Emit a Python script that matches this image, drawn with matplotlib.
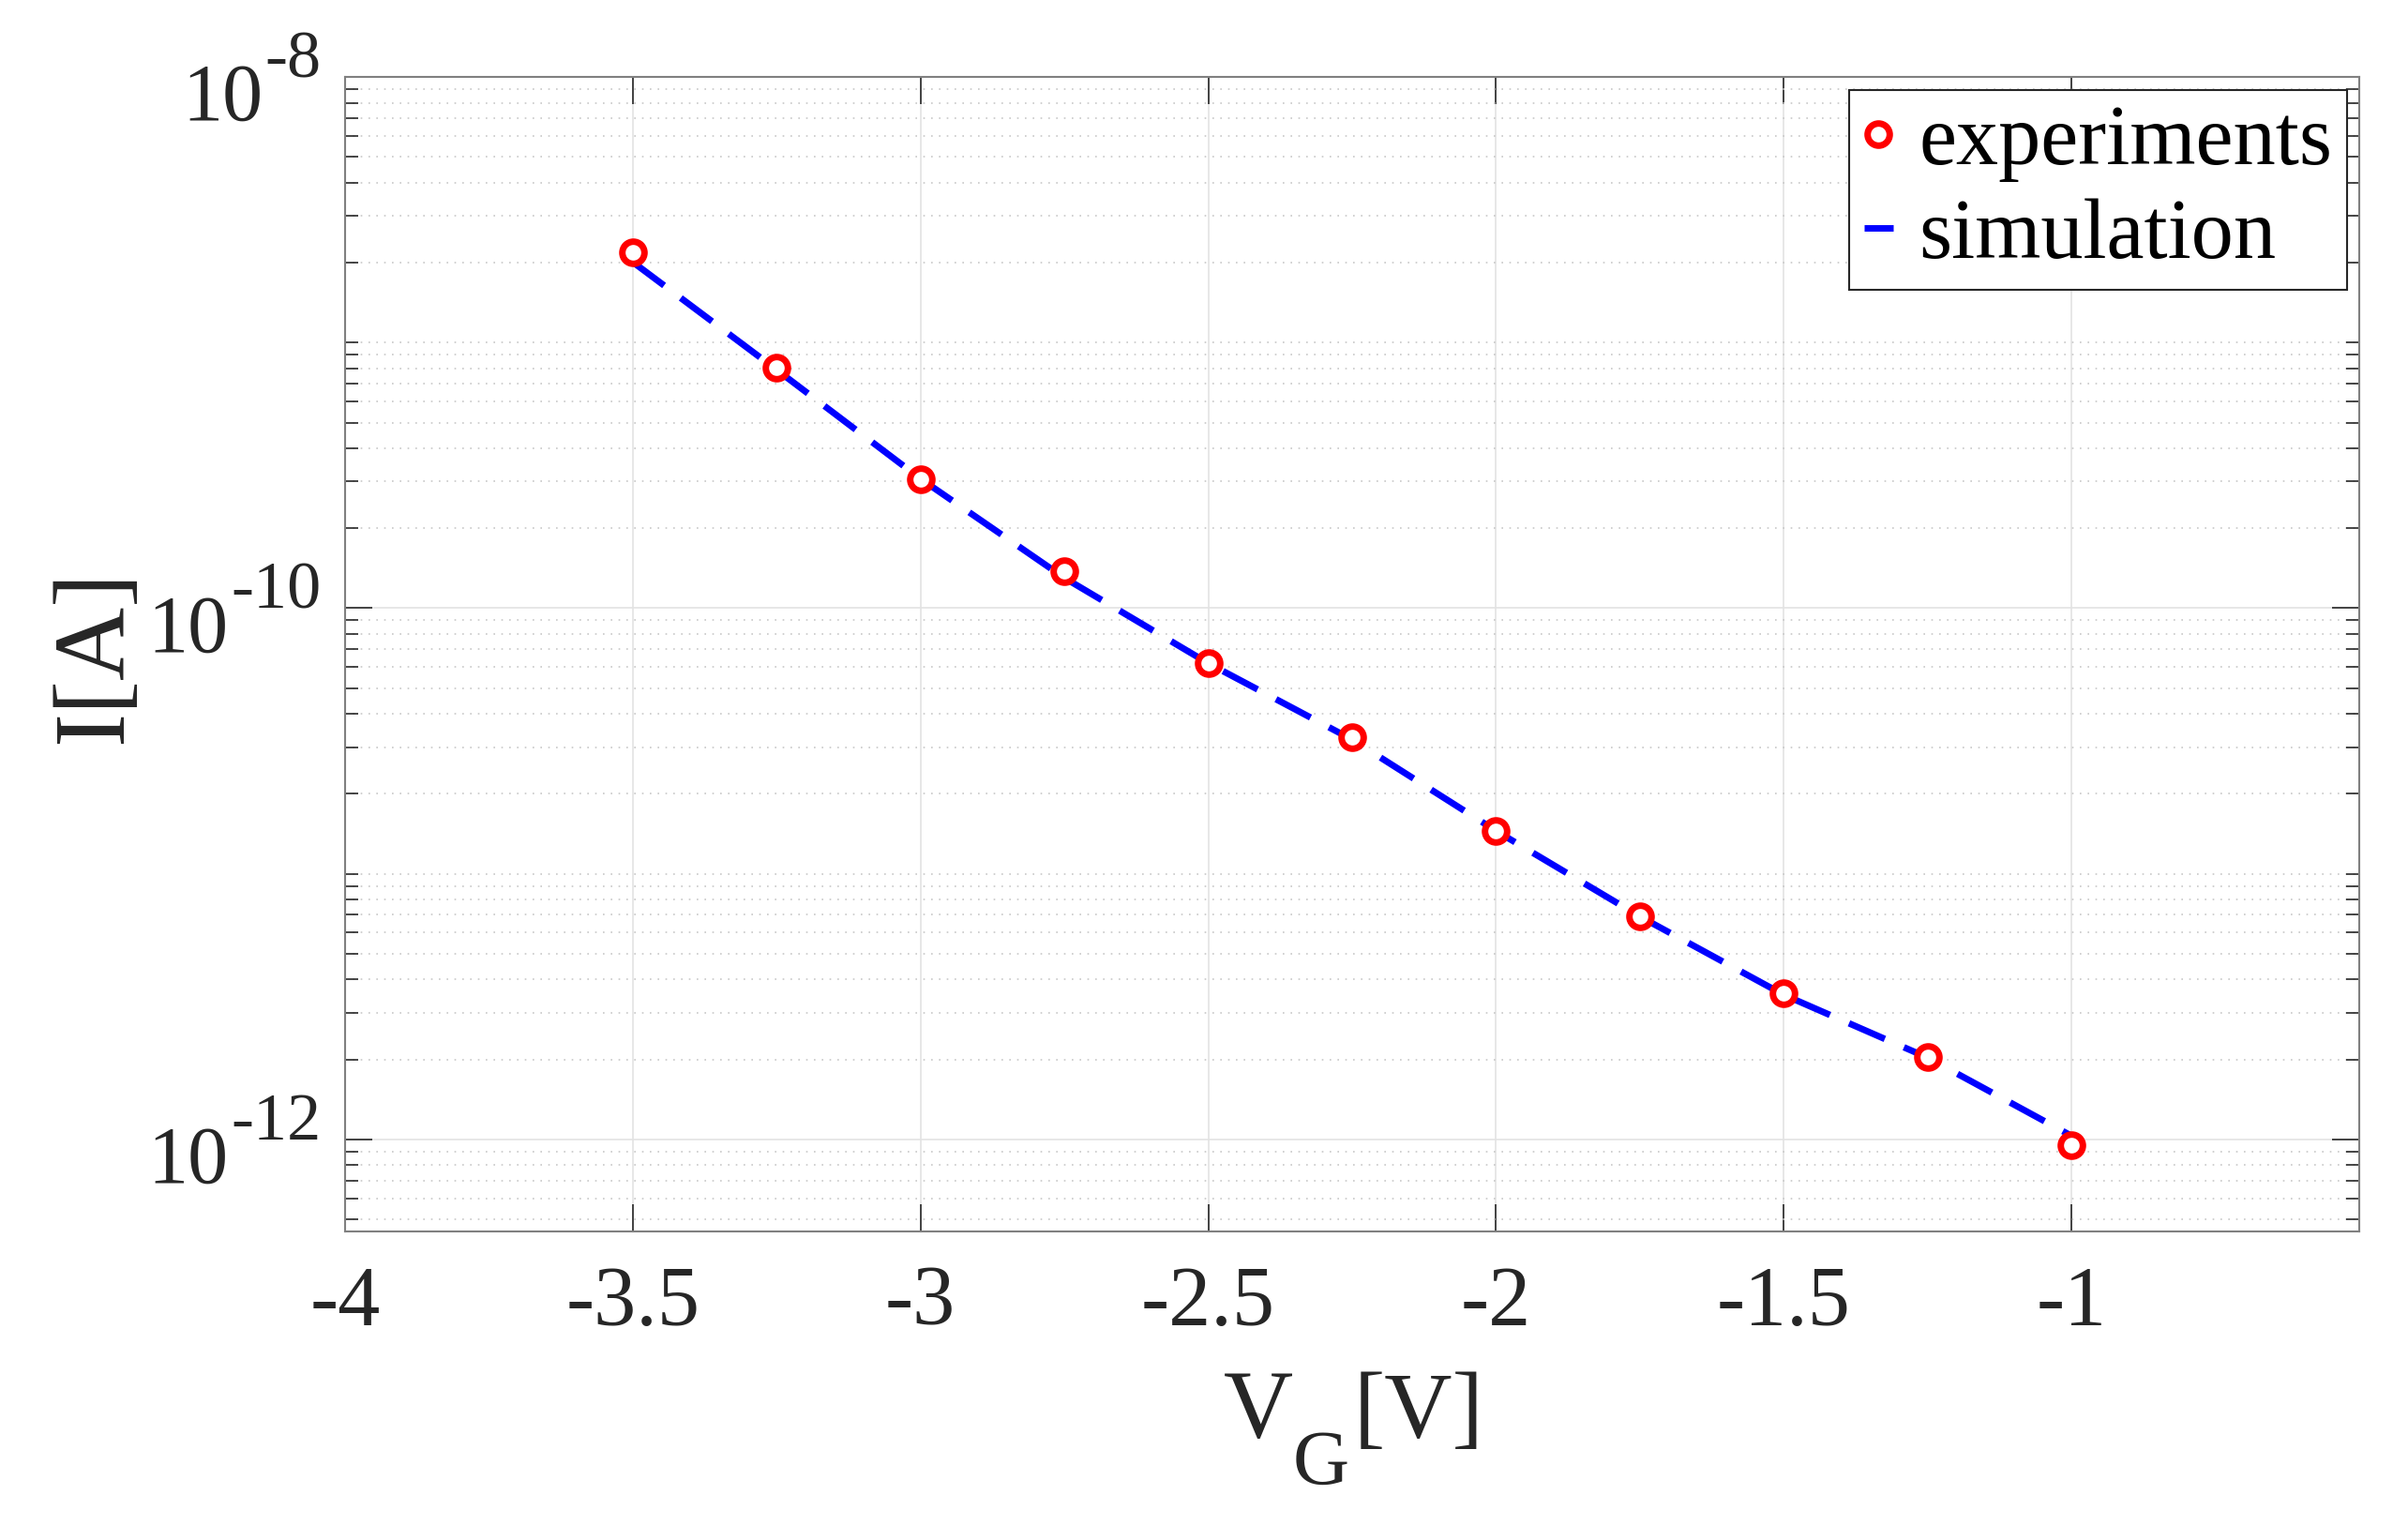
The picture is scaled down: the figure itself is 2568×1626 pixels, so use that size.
import matplotlib
matplotlib.use("Agg")
import matplotlib.pyplot as plt
import matplotlib.transforms as mtransforms
from matplotlib.ticker import FixedLocator, FixedFormatter, NullFormatter

# ---- data ----
vg = [-3.5, -3.25, -3.0, -2.75, -2.5, -2.25, -2.0, -1.75, -1.5, -1.25, -1.0]
i_exp = [2.18e-9, 8.05e-10, 3.07e-10, 1.38e-10, 6.21e-11, 3.28e-11,
         1.45e-11, 6.93e-12, 3.54e-12, 2.05e-12, 9.48e-13]
i_sim = [2.01e-9, 7.9e-10, 3.07e-10, 1.30e-10, 6.2e-11, 3.2e-11,
         1.45e-11, 6.9e-12, 3.5e-12, 2.03e-12, 1.03e-12]
xticks = [-4, -3.5, -3, -2.5, -2, -1.5, -1]
xticklabels = ["-4", "-3.5", "-3", "-2.5", "-2", "-1.5", "-1"]
yticks = [1e-12, 1e-10, 1e-8]
yexponents = ["-12", "-10", "-8"]
legend_labels = ["experiments", "simulation"]

TXT = "#262626"
plt.rcParams["font.family"] = ["Liberation Serif", "DejaVu Serif"]
plt.rcParams["axes.unicode_minus"] = False

fig = plt.figure(figsize=(25.68, 16.26), dpi=100)
ax = fig.add_axes([0.1433, 0.1925, 0.8365, 0.757])

ax.set_yscale("log")
ax.set_xlim(-4, -0.5)
ax.set_ylim(4.5e-13, 1e-8)

ax.plot(vg, i_sim, color="#0000ff", lw=5, dashes=(6, 3.2),
        label=legend_labels[1], zorder=3)
ax.plot(vg, i_exp, ls="none", marker="o", ms=17, mew=5, mec="#ff0000", mfc="white",
        label=legend_labels[0], zorder=4)

# ticks
ax.xaxis.set_major_locator(FixedLocator(xticks))
ax.xaxis.set_major_formatter(FixedFormatter(xticklabels))
ax.yaxis.set_major_locator(FixedLocator(yticks))
ax.yaxis.set_major_formatter(NullFormatter())
minors = []
for e in range(-13, -7):
    for k in range(1, 10):
        v = k * 10.0 ** e
        if 4.5e-13 <= v <= 1e-8 and not any(abs(v - t) / t < 1e-6 for t in yticks):
            minors.append(v)
ax.yaxis.set_minor_locator(FixedLocator(minors))
ax.yaxis.set_minor_formatter(NullFormatter())

ax.tick_params(axis="both", which="major", direction="in", length=21, width=1.2,
               color=TXT, top=True, right=True)
ax.tick_params(axis="y", which="minor", direction="in", length=10, width=1.2,
               color=TXT, right=True, left=True)
ax.tick_params(axis="x", which="major", pad=26, labelcolor=TXT, labelsize=65)

for s in ax.spines.values():
    s.set_color("#808080")
    s.set_linewidth(1.5)

ax.grid(True, which="major", color="#e3e3e3", lw=1.2, ls="-")
ax.grid(True, which="minor", axis="y", color="#c8c8c8", lw=1.2, ls=(0, (1, 4)))
ax.set_axisbelow(True)

# y tick labels: "10" with raised exponent
trans = mtransforms.blended_transform_factory(ax.transAxes, ax.transData)
for v, ex in zip(yticks, yexponents):
    t_exp = ax.annotate(ex, xy=(0, v), xycoords=trans, xytext=(-18, 0),
                        textcoords="offset points", ha="right", va="baseline",
                        fontsize=52, color=TXT, annotation_clip=False)
    ax.annotate("10", xy=(0, v), xycoords=(t_exp, trans), xytext=(-2, -33),
                textcoords="offset points", ha="right", va="baseline",
                fontsize=62, color=TXT, annotation_clip=False)

# x label: V_G[V]
W, H = 2568.0, 1626.0
tV = fig.text(1305 / W, 1 - 1532 / H, "V", fontsize=74, color=TXT,
              ha="left", va="baseline")
tG = ax.annotate("G", xy=(1, 1 - 1582 / H), xycoords=(tV, "figure fraction"),
                 xytext=(0, 0), textcoords="offset points", fontsize=60, color=TXT,
                 ha="left", va="baseline", annotation_clip=False)
ax.annotate("[V]", xy=(1, 1 - 1532 / H), xycoords=(tG, "figure fraction"),
            xytext=(3, 0), textcoords="offset points", fontsize=72, color=TXT,
            ha="left", va="baseline", annotation_clip=False)

# y label
fig.text(103 / W, 1 - 700 / H, "I[A]", rotation=90, fontsize=78, color=TXT,
         ha="center", va="center")

h, l = ax.get_legend_handles_labels()
leg = ax.legend([h[1], h[0]], [l[1], l[0]], loc="upper right", fontsize=65,
                frameon=True, fancybox=False, framealpha=1, edgecolor=TXT,
                handlelength=0.35, handletextpad=0.3, borderaxespad=0.15,
                labelspacing=0.2, borderpad=0.17)
leg.get_frame().set_linewidth(1.5)

fig.savefig("out.png", dpi=100, facecolor="white")
